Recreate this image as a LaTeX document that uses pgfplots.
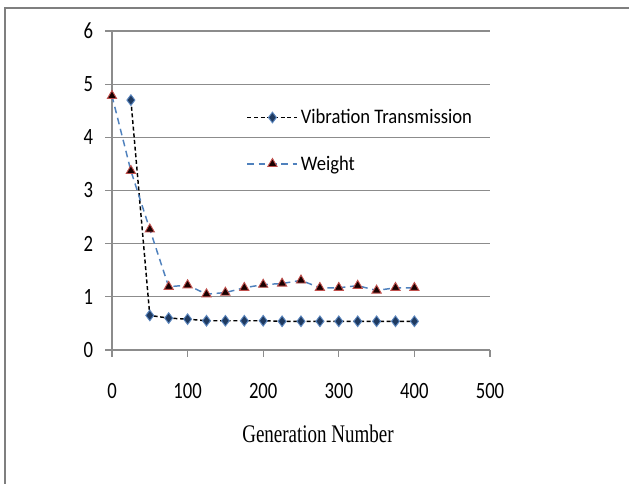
\documentclass[border=0pt]{standalone}
\usepackage{fontspec}
\setmainfont{Carlito}[FakeStretch=0.9]
\newfontfamily\tickfont{Carlito}[FakeStretch=0.8]
\newfontfamily\serifface{Liberation Serif}[FakeStretch=0.75]
\usepackage{pgfplots}
\pgfplotsset{compat=1.18}
\definecolor{gridgray}{HTML}{8C8C8C}
\definecolor{framegray}{HTML}{7F7F7F}
\definecolor{vibfill}{HTML}{1F3A60}
\definecolor{vibedge}{HTML}{5B86BE}
\definecolor{wline}{HTML}{4F81BD}
\definecolor{wedge}{HTML}{C0504D}
\definecolor{wfill}{HTML}{1A0000}

\begin{document}
\begin{tikzpicture}
\useasboundingbox (-84pt,-100.5pt) rectangle (387.75pt,262.5pt);
\draw[framegray, line width=1.2pt] (-80.25pt,-100.5pt) -- (-80.25pt,256.5pt) -- (387.75pt,256.5pt);
\begin{axis}[
    at={(0,0)}, anchor=south west,
    scale only axis,
    width=283.5pt, height=239.25pt,
    xmin=0, xmax=500, ymin=0, ymax=6,
    xtick={0,100,...,500},
    ytick={0,1,...,6},
    axis x line*=bottom,
    axis y line*=left,
    axis line style={gridgray, line width=0.9pt},
    ymajorgrids,
    major grid style={gridgray, line width=0.9pt},
    tick style={gridgray, line width=0.9pt},
    tick align=outside,
    major tick length=5pt,
    /pgf/number format/assume math mode=true,
    xticklabel style={font=\tickfont\fontsize{17.5}{20}\selectfont, anchor=center, yshift=-26pt},
    yticklabel style={font=\tickfont\fontsize{17.5}{20}\selectfont, anchor=east, inner sep=0pt, xshift=-9pt},
    xlabel={Generation Number},
    xlabel style={font=\serifface\fontsize{19}{22}\selectfont, at={(axis description cs:0.545,0)}, anchor=center, yshift=-63pt},
    legend style={draw=none, fill=none, at={(axis description cs:0.345,0.772)}, anchor=north west,
        font=\fontsize{15.5}{18}\selectfont, row sep=18.5pt},
    legend cell align=left,
    legend image code/.code={\draw[mark repeat=2, mark phase=2, #1] plot coordinates {(0cm,0cm) (0.66cm,0cm) (1.32cm,0cm)};},
]
\addplot[black, densely dashed, line width=1.1pt, mark=diamond*, mark size=4pt,
    mark options={solid, fill=vibfill, draw=vibedge, line width=0.7pt}]
coordinates {
    (25,4.70) (50,0.65) (75,0.60) (100,0.58) (125,0.55) (150,0.55) (175,0.55)
    (200,0.55) (225,0.54) (250,0.54) (275,0.54) (300,0.54) (325,0.54) (350,0.54)
    (375,0.54) (400,0.54)
};
\addlegendentry{Vibration Transmission}
\addplot[wline, dash pattern=on 5pt off 3.5pt, line width=1.1pt, mark=triangle*, mark size=4pt,
    mark options={solid, fill=wfill, draw=wedge, line width=0.7pt}]
coordinates {
    (0,4.78) (25,3.37) (50,2.27) (75,1.19) (100,1.22) (125,1.05) (150,1.08)
    (175,1.17) (200,1.23) (225,1.25) (250,1.31) (275,1.17) (300,1.17) (325,1.21)
    (350,1.12) (375,1.17) (400,1.17)
};
\addlegendentry{Weight}
\end{axis}
\end{tikzpicture}
\end{document}
